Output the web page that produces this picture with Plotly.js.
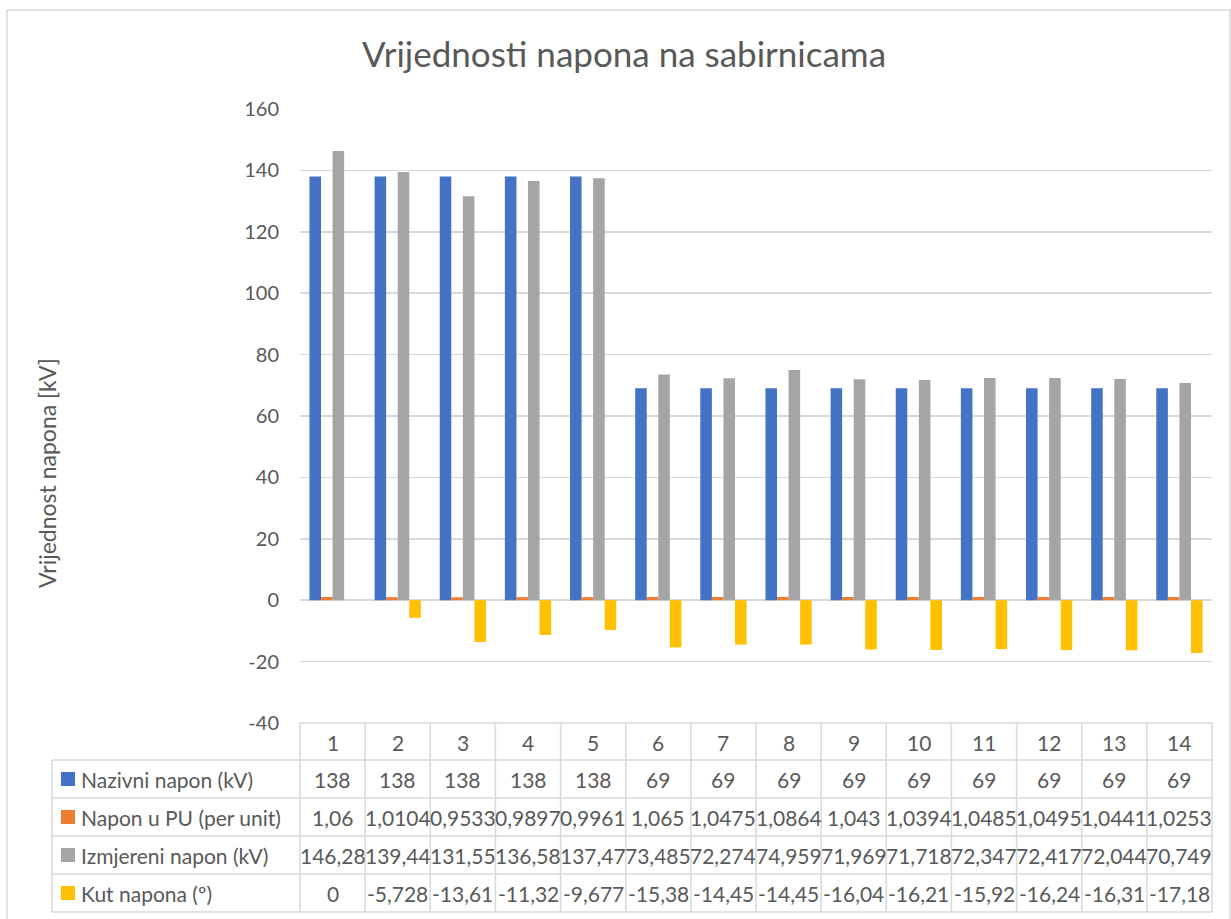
<!DOCTYPE html>
<html>
<head>
<meta charset="utf-8">
<script src="https://cdn.plot.ly/plotly-3.0.1.min.js"></script>
<style>html,body{margin:0;padding:0;background:#fff;}#chart{width:1231px;height:919px;}</style>
</head>
<body>
<div id="chart"></div>
<script>
// ---- data ----
const categories = [1, 2, 3, 4, 5, 6, 7, 8, 9, 10, 11, 12, 13, 14];
const seriesNames = ["Nazivni napon (kV)", "Napon u PU (per unit)", "Izmjereni napon (kV)", "Kut napona (\u00BA)"];
const nazivniNapon = [138, 138, 138, 138, 138, 69, 69, 69, 69, 69, 69, 69, 69, 69];
const naponPU = [1.06, 1.0104, 0.9533, 0.9897, 0.9961, 1.065, 1.0475, 1.0864, 1.043, 1.0394, 1.0485, 1.0495, 1.0441, 1.0253];
const izmjereniNapon = [146.28, 139.44, 131.55, 136.58, 137.47, 73.485, 72.274, 74.959, 71.969, 71.718, 72.347, 72.417, 72.044, 70.749];
const kutNapona = [0, -5.728, -13.61, -11.32, -9.677, -15.38, -14.45, -14.45, -16.04, -16.21, -15.92, -16.24, -16.31, -17.18];
const colors = ["#4472C4", "#ED7D31", "#A5A5A5", "#FFC000"];
const yTicks = [-40, -20, 0, 20, 40, 60, 80, 100, 120, 140, 160];

const allSeries = [nazivniNapon, naponPU, izmjereniNapon, kutNapona];
const fmt = v => String(v).replace('.', ',');

// ---- geometry helpers (pixels -> paper) ----
const W = 1231, H = 919;
const L = 300, R = 1212, T = 109, B = 723;
const px = x => (x - L) / (R - L);
const py = y => (B - y) / (B - T);
const FONT = "Lato, 'Open Sans', sans-serif";
const TXT = "#595959";
const GRID = "#d9d9d9";
const TFS = 21;

const traces = allSeries.map((vals, i) => ({
  type: 'bar',
  name: seriesNames[i],
  x: categories,
  y: vals,
  marker: {color: colors[i], line: {width: 0}},
  hoverinfo: 'x+y+name'
}));

const shapes = [];
const annotations = [];

// outer chart border
shapes.push({type: 'rect', xref: 'paper', yref: 'paper', x0: px(7), x1: px(1230), y0: py(10), y1: py(930),
  line: {color: GRID, width: 1.5}, fillcolor: 'rgba(0,0,0,0)', layer: 'below'});

// table rows
const rowLines = [760, 798, 836, 874, 912];
const headerTop = 723;
shapes.push({type: 'line', xref: 'paper', yref: 'paper', x0: px(L), x1: px(R), y0: py(headerTop), y1: py(headerTop), line: {color: GRID, width: 1.5}});
rowLines.forEach(y => {
  shapes.push({type: 'line', xref: 'paper', yref: 'paper', x0: px(52), x1: px(R), y0: py(y), y1: py(y), line: {color: GRID, width: 1.5}});
});
for (let k = 0; k <= categories.length; k++) {
  const xp = k / categories.length;
  shapes.push({type: 'line', xref: 'paper', yref: 'paper', x0: xp, x1: xp, y0: py(headerTop), y1: py(912), line: {color: GRID, width: 1.5}});
}
shapes.push({type: 'line', xref: 'paper', yref: 'paper', x0: px(52), x1: px(52), y0: py(760), y1: py(912), line: {color: GRID, width: 1.5}});

// header labels
categories.forEach(c => {
  annotations.push({xref: 'x', yref: 'paper', x: c, y: py(742), text: String(c), showarrow: false,
    xanchor: 'center', yanchor: 'middle', font: {family: FONT, size: TFS, color: TXT}});
});
// rows
const rowCenters = [779, 817, 855, 893];
allSeries.forEach((vals, i) => {
  const yc = rowCenters[i];
  shapes.push({type: 'rect', xref: 'paper', yref: 'paper', x0: px(61), x1: px(75), y0: py(yc - 7), y1: py(yc + 7),
    fillcolor: colors[i], line: {width: 0}});
  annotations.push({xref: 'paper', yref: 'paper', x: px(79), y: py(yc), text: seriesNames[i], showarrow: false,
    xanchor: 'left', yanchor: 'middle', font: {family: FONT, size: TFS, color: TXT}});
  vals.forEach((v, j) => {
    annotations.push({xref: 'x', yref: 'paper', x: categories[j], y: py(yc), text: fmt(v), showarrow: false,
      xanchor: 'center', yanchor: 'middle', font: {family: FONT, size: TFS, color: TXT}});
  });
});

// y-axis title
annotations.push({xref: 'paper', yref: 'paper', x: px(47), y: py(473), text: 'Vrijednost napona [kV]', textangle: -90,
  showarrow: false, xanchor: 'center', yanchor: 'middle', font: {family: FONT, size: 23, color: TXT}});

const layout = {
  width: W, height: H,
  margin: {l: L, r: W - R, t: T, b: H - B, pad: 0},
  paper_bgcolor: '#ffffff', plot_bgcolor: '#ffffff',
  title: {text: 'Vrijednosti napona na sabirnicama', x: 624 / W, xref: 'container', xanchor: 'center',
    y: 1 - 55 / H, yref: 'container', yanchor: 'middle', font: {family: FONT, size: 35, color: TXT}},
  showlegend: false,
  barmode: 'group', bargap: 0.29, bargroupgap: 0,
  xaxis: {type: 'linear', range: [0.5, 14.5], showticklabels: false, showgrid: false, zeroline: false, showline: false, fixedrange: true},
  yaxis: {range: [-40, 160], tickvals: yTicks, ticktext: yTicks.map(String), showgrid: true, gridcolor: GRID, gridwidth: 1.5,
    zeroline: true, zerolinecolor: GRID, zerolinewidth: 1.5, showline: false, ticks: '', ticklabelstandoff: 20,
    tickfont: {family: FONT, size: 20, color: TXT}, fixedrange: true},
  shapes: shapes,
  annotations: annotations
};

Plotly.newPlot('chart', traces, layout, {displayModeBar: false, staticPlot: true});
</script>
</body>
</html>
